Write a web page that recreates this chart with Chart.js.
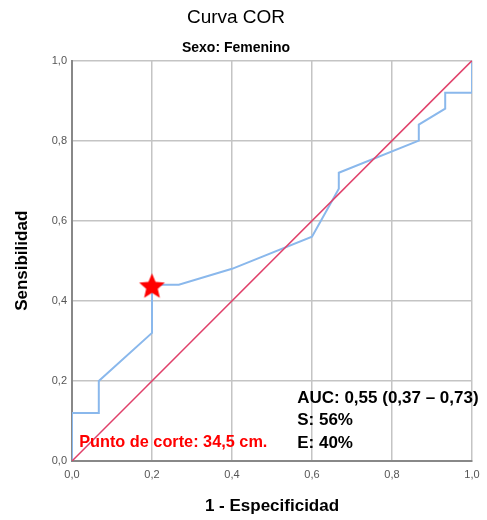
<!DOCTYPE html>
<html>
<head>
<meta charset="utf-8">
<script src="https://cdn.jsdelivr.net/npm/chart.js@4"></script>
<style>
  html, body { margin: 0; padding: 0; background: #fff; }
  #wrap { width: 487px; height: 520px; }
</style>
</head>
<body>
<div id="wrap"><canvas id="rocChart" width="487" height="520"></canvas></div>
<script>
// ROC curve (1 - especificidad, sensibilidad)
const rocX = [0, 0, 0.067, 0.067, 0.2, 0.2, 0.267, 0.4, 0.6, 0.667, 0.667, 0.867, 0.867, 0.933, 0.933, 1, 1];
const rocY = [0, 0.12, 0.12, 0.2, 0.32, 0.44, 0.44, 0.48, 0.56, 0.68, 0.72, 0.8, 0.84, 0.88, 0.92, 0.92, 1];
const refX = [0, 1];
const refY = [0, 1];
const cutX = [0.2];
const cutY = [0.435];
const tickValues = [0, 0.2, 0.4, 0.6, 0.8, 1];
const statLines = ['AUC: 0,55 (0,37 – 0,73)', 'S: 56%', 'E: 40%'];
const cutLabel = 'Punto de corte: 34,5 cm.';

const FONT = '"Liberation Sans", Arial, sans-serif';

function toPoints(xs, ys) {
    return xs.map((x, i) => ({ x: x, y: ys[i] }));
}

function fmt(v) {
    return v.toFixed(1).replace('.', ',');
}

// filled five point star used as point style
function makeStar(r, color) {
    const c = document.createElement('canvas');
    const size = Math.ceil(r * 2) + 2;
    c.width = size;
    c.height = size;
    const g = c.getContext('2d');
    g.fillStyle = color;
    g.beginPath();
    for (let i = 0; i < 10; i++) {
        const rad = i % 2 === 0 ? r : r * 0.45;
        const a = -Math.PI / 2 + i * Math.PI / 5;
        const px = size / 2 + rad * Math.cos(a);
        const py = size / 2 + rad * Math.sin(a);
        if (i === 0) g.moveTo(px, py); else g.lineTo(px, py);
    }
    g.closePath();
    g.fill();
    return c;
}

const textPlugin = {
    id: 'notes',
    afterDatasetsDraw(chart) {
        const ctx = chart.ctx;
        const xs = chart.scales.x;
        const ys = chart.scales.y;
        ctx.save();
        ctx.textBaseline = 'alphabetic';
        ctx.textAlign = 'left';
        ctx.font = 'bold 17px ' + FONT;
        ctx.fillStyle = '#000';
        const sx = xs.getPixelForValue(0.563);
        statLines.forEach((t, i) => {
            ctx.fillText(t, sx, ys.getPixelForValue(0.145) + i * 22.5);
        });
        ctx.font = 'bold 16.3px ' + FONT;
        ctx.fillStyle = '#ff0000';
        ctx.fillText(cutLabel, xs.getPixelForValue(0.018), ys.getPixelForValue(0.035));
        ctx.restore();
    }
};

new Chart(document.getElementById('rocChart').getContext('2d'), {
    type: 'line',
    data: {
        datasets: [
            {
                label: 'Punto de corte',
                data: toPoints(cutX, cutY),
                showLine: false,
                pointStyle: makeStar(13.5, '#ff0000'),
                pointRadius: 14
            },
            {
                label: 'Referencia',
                data: toPoints(refX, refY),
                borderColor: '#e0406a',
                borderWidth: 1.5,
                pointRadius: 0,
                tension: 0
            },
            {
                label: 'COR',
                data: toPoints(rocX, rocY),
                borderColor: '#8ab8ec',
                borderWidth: 2,
                pointRadius: 0,
                tension: 0
            }
        ]
    },
    options: {
        responsive: false,
        animation: false,
        layout: { padding: { left: 0, right: 15, top: 0, bottom: 0 } },
        plugins: {
            legend: { display: false },
            tooltip: { enabled: false },
            title: {
                display: true,
                text: 'Curva COR',
                color: '#000',
                font: { family: FONT, size: 19, weight: '500' },
                padding: { top: 6, bottom: 6 }
            },
            subtitle: {
                display: true,
                text: 'Sexo: Femenino',
                color: '#000',
                font: { family: FONT, size: 14, weight: 'bold' },
                padding: { top: 5, bottom: 4 }
            }
        },
        scales: {
            x: {
                type: 'linear',
                min: 0,
                max: 1,
                afterBuildTicks: s => { s.ticks = tickValues.map(v => ({ value: v })); },
                afterFit: s => { s.height = 59; },
                ticks: {
                    callback: v => fmt(v),
                    color: '#555',
                    font: { family: FONT, size: 11 },
                    padding: 7,
                    maxRotation: 0
                },
                grid: { color: '#c4c4c4', lineWidth: 1.5, drawTicks: false },
                border: { color: '#888', width: 2 },
                title: {
                    display: true,
                    text: '1 - Especificidad',
                    color: '#000',
                    font: { family: FONT, size: 17, weight: 'bold' },
                    padding: { top: 0, bottom: 3 }
                }
            },
            y: {
                type: 'linear',
                min: 0,
                max: 1,
                afterBuildTicks: s => { s.ticks = tickValues.map(v => ({ value: v })); },
                afterFit: s => { s.width = 72; },
                ticks: {
                    callback: v => fmt(v),
                    color: '#555',
                    font: { family: FONT, size: 11 },
                    padding: 5
                },
                grid: { color: '#c4c4c4', lineWidth: 1.5, drawTicks: false },
                border: { color: '#888', width: 2 },
                title: {
                    display: true,
                    text: 'Sensibilidad',
                    color: '#000',
                    font: { family: FONT, size: 17, weight: 'bold' },
                    padding: { top: 12, bottom: 0 }
                }
            }
        }
    },
    plugins: [textPlugin]
});
</script>
</body>
</html>
